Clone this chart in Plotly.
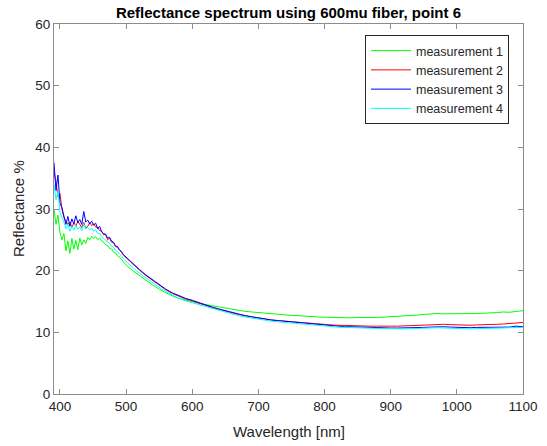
import plotly.graph_objects as go

wavelength = [391, 394, 397, 400, 403, 406, 409, 412, 415, 418, 421, 424, 427, 430, 433, 436, 439, 442, 445, 448,
              451, 454, 457, 460, 463, 466, 469, 472, 475, 478, 481, 484, 487, 490, 493, 496, 499, 502,
              510, 520, 530, 540, 550, 560, 570, 580, 590, 600, 610, 620, 630, 640, 650, 660, 670, 680, 690, 700,
              710, 720, 730, 740, 750, 760, 770, 780, 790, 800, 810, 820, 830, 840, 850, 860, 870, 880, 890, 900,
              910, 920, 930, 940, 950, 960, 970, 980, 990, 1000, 1010, 1020, 1030, 1040, 1050, 1060, 1070, 1080,
              1090, 1100]

measurement_1 = [30.0, 27.5, 29.0, 26.2, 25.0, 26.0, 23.2, 24.8, 22.8, 25.2, 23.5, 24.9, 23.4, 25.3, 24.2, 25.0,
                 24.4, 25.4, 25.0, 25.6, 25.2, 25.5, 25.0, 25.3, 24.8, 24.6, 24.2, 24.1, 23.6, 23.5, 23.0, 22.9,
                 22.4, 22.2, 21.8, 21.4, 21.0, 20.7,
                 20.0, 19.2, 18.4, 17.7, 17.0, 16.4, 15.9, 15.5, 15.2, 15.0, 14.7, 14.5, 14.3, 14.1, 13.9, 13.7,
                 13.6, 13.4, 13.3, 13.2, 13.1, 12.95, 12.9, 12.8, 12.75, 12.7, 12.6, 12.55, 12.5, 12.45, 12.4, 12.4,
                 12.35, 12.35, 12.4, 12.35, 12.4, 12.4, 12.45, 12.5, 12.55, 12.6, 12.7, 12.8, 12.9, 13.0, 13.05,
                 13.0, 13.0, 12.95, 13.0, 13.0, 13.05, 13.1, 13.1, 13.2, 13.3, 13.25, 13.4, 13.5]

measurement_2 = [36.0, 34.5, 32.0, 32.5, 30.0, 28.6, 28.0, 27.5, 27.9, 27.0, 27.8, 27.2, 28.0, 27.4, 27.0, 27.8,
                 26.9, 27.2, 27.8, 27.3, 27.6, 27.1, 27.0, 26.5, 26.4, 25.8, 25.9, 25.0, 25.3, 24.6, 24.5, 23.9,
                 23.8, 23.3, 23.0, 22.5, 22.2, 21.8,
                 21.0, 20.1, 19.2, 18.4, 17.6, 16.9, 16.3, 15.8, 15.4, 15.1, 14.7, 14.4, 14.0, 13.7, 13.4, 13.2,
                 12.9, 12.7, 12.5, 12.3, 12.2, 12.0, 11.9, 11.8, 11.7, 11.6, 11.5, 11.4, 11.3, 11.25, 11.2, 11.15,
                 11.1, 11.1, 11.05, 11.0, 11.0, 11.0, 10.95, 11.0, 11.0, 11.05, 11.1, 11.15, 11.25, 11.3, 11.35,
                 11.3, 11.25, 11.2, 11.2, 11.15, 11.2, 11.2, 11.25, 11.3, 11.35, 11.4, 11.5, 11.6]

measurement_3 = [37.5, 33.0, 35.5, 31.0, 30.2, 29.0, 27.5, 28.8, 27.2, 28.4, 27.6, 28.9, 27.8, 28.3, 27.5, 29.6,
                 27.9, 28.2, 27.6, 28.0, 27.4, 27.7, 26.8, 27.2, 26.3, 26.0, 25.9, 25.3, 25.4, 24.8, 24.6, 24.0,
                 23.9, 23.4, 23.1, 22.6, 22.3, 21.9,
                 21.1, 20.2, 19.3, 18.5, 17.7, 17.0, 16.4, 15.9, 15.5, 15.2, 14.8, 14.5, 14.1, 13.8, 13.5, 13.2,
                 13.0, 12.7, 12.5, 12.3, 12.1, 12.0, 11.9, 11.8, 11.7, 11.5, 11.4, 11.3, 11.2, 11.1, 11.0, 10.95,
                 10.9, 10.9, 10.85, 10.8, 10.8, 10.75, 10.75, 10.7, 10.7, 10.7, 10.7, 10.75, 10.8, 10.85, 10.9,
                 10.9, 10.85, 10.8, 10.8, 10.75, 10.8, 10.8, 10.8, 10.85, 10.9, 10.85, 11.0, 10.9]

measurement_4 = [34.0, 31.5, 32.8, 29.5, 28.6, 27.9, 26.8, 27.5, 26.4, 27.2, 26.6, 27.4, 26.7, 27.1, 26.5, 27.6,
                 26.8, 27.0, 26.6, 26.9, 26.4, 26.6, 26.0, 26.1, 25.5, 25.3, 25.0, 24.6, 24.5, 24.0, 23.8, 23.3,
                 23.1, 22.7, 22.4, 21.9, 21.6, 21.2,
                 20.5, 19.6, 18.8, 18.0, 17.3, 16.6, 16.0, 15.5, 15.1, 14.8, 14.4, 14.1, 13.8, 13.5, 13.2, 12.9,
                 12.7, 12.5, 12.3, 12.1, 11.9, 11.8, 11.7, 11.6, 11.5, 11.35, 11.25, 11.15, 11.05, 11.0, 10.9, 10.85,
                 10.8, 10.75, 10.7, 10.7, 10.65, 10.6, 10.6, 10.6, 10.55, 10.55, 10.6, 10.6, 10.65, 10.7, 10.75,
                 10.7, 10.65, 10.6, 10.6, 10.55, 10.6, 10.6, 10.65, 10.7, 10.7, 10.75, 10.8, 10.8]

series_names = ["measurement 1", "measurement 2", "measurement 3", "measurement 4"]
series_colors = ["#00ff00", "#ff0000", "#0000ff", "#00ffff"]
x_ticks = [400, 500, 600, 700, 800, 900, 1000, 1100]
y_ticks = [0, 10, 20, 30, 40, 50, 60]

FONT = "Liberation Sans, Arial, sans-serif"
AXIS_COLOR = "#8c8c8c"
TEXT_COLOR = "#262626"

W, H = 547, 446
L, R, T, B = 54, 24, 24, 52
PW, PH = W - L - R, H - T - B


def px_x(wx):
    return (wx - L) / PW


def px_y(wy):
    return (H - B - wy) / PH


fig = go.Figure()
for name, color, vals in zip(series_names, series_colors,
                             [measurement_1, measurement_2, measurement_3, measurement_4]):
    fig.add_trace(go.Scatter(x=wavelength, y=vals, mode="lines", name=name,
                             line=dict(color=color, width=1)))

axis_common = dict(showgrid=False, zeroline=False, showline=True, linecolor=AXIS_COLOR, linewidth=1,
                   mirror="ticks", ticks="inside", ticklen=5, tickcolor=AXIS_COLOR, tickwidth=1,
                   automargin=False,
                   tickfont=dict(family=FONT, size=13.5, color=TEXT_COLOR))

fig.update_layout(
    width=W, height=H,
    paper_bgcolor="white", plot_bgcolor="white",
    margin=dict(l=L, r=R, t=T, b=B, autoexpand=False),
    title=dict(text="<b>Reflectance spectrum using 600mu fiber, point 6</b>",
               font=dict(family=FONT, size=15, color="#000000"),
               x=(L + PW / 2) / W, xanchor="center", y=1 - 13 / H, yanchor="middle"),
    xaxis=dict(range=[391, 1100], tickvals=x_ticks, **axis_common),
    yaxis=dict(range=[0, 60], tickvals=y_ticks, **axis_common),
    legend=dict(x=px_x(509), y=px_y(35), xanchor="right", yanchor="top",
                bgcolor="white", bordercolor=TEXT_COLOR, borderwidth=1,
                font=dict(family=FONT, size=12.5, color=TEXT_COLOR),
                tracegroupgap=0, itemwidth=40),
    showlegend=True,
    annotations=[
        dict(text="Wavelength [nm]", xref="paper", yref="paper", x=0.5, y=px_y(431),
             xanchor="center", yanchor="middle", showarrow=False,
             font=dict(family=FONT, size=15, color=TEXT_COLOR)),
        dict(text="Reflectance %", xref="paper", yref="paper", x=px_x(18), y=0.5,
             xanchor="center", yanchor="middle", textangle=-90, showarrow=False,
             font=dict(family=FONT, size=15, color=TEXT_COLOR)),
    ],
)

fig.write_html("out.html", config={"displayModeBar": False},
               post_script="document.body.style.margin='0';")
